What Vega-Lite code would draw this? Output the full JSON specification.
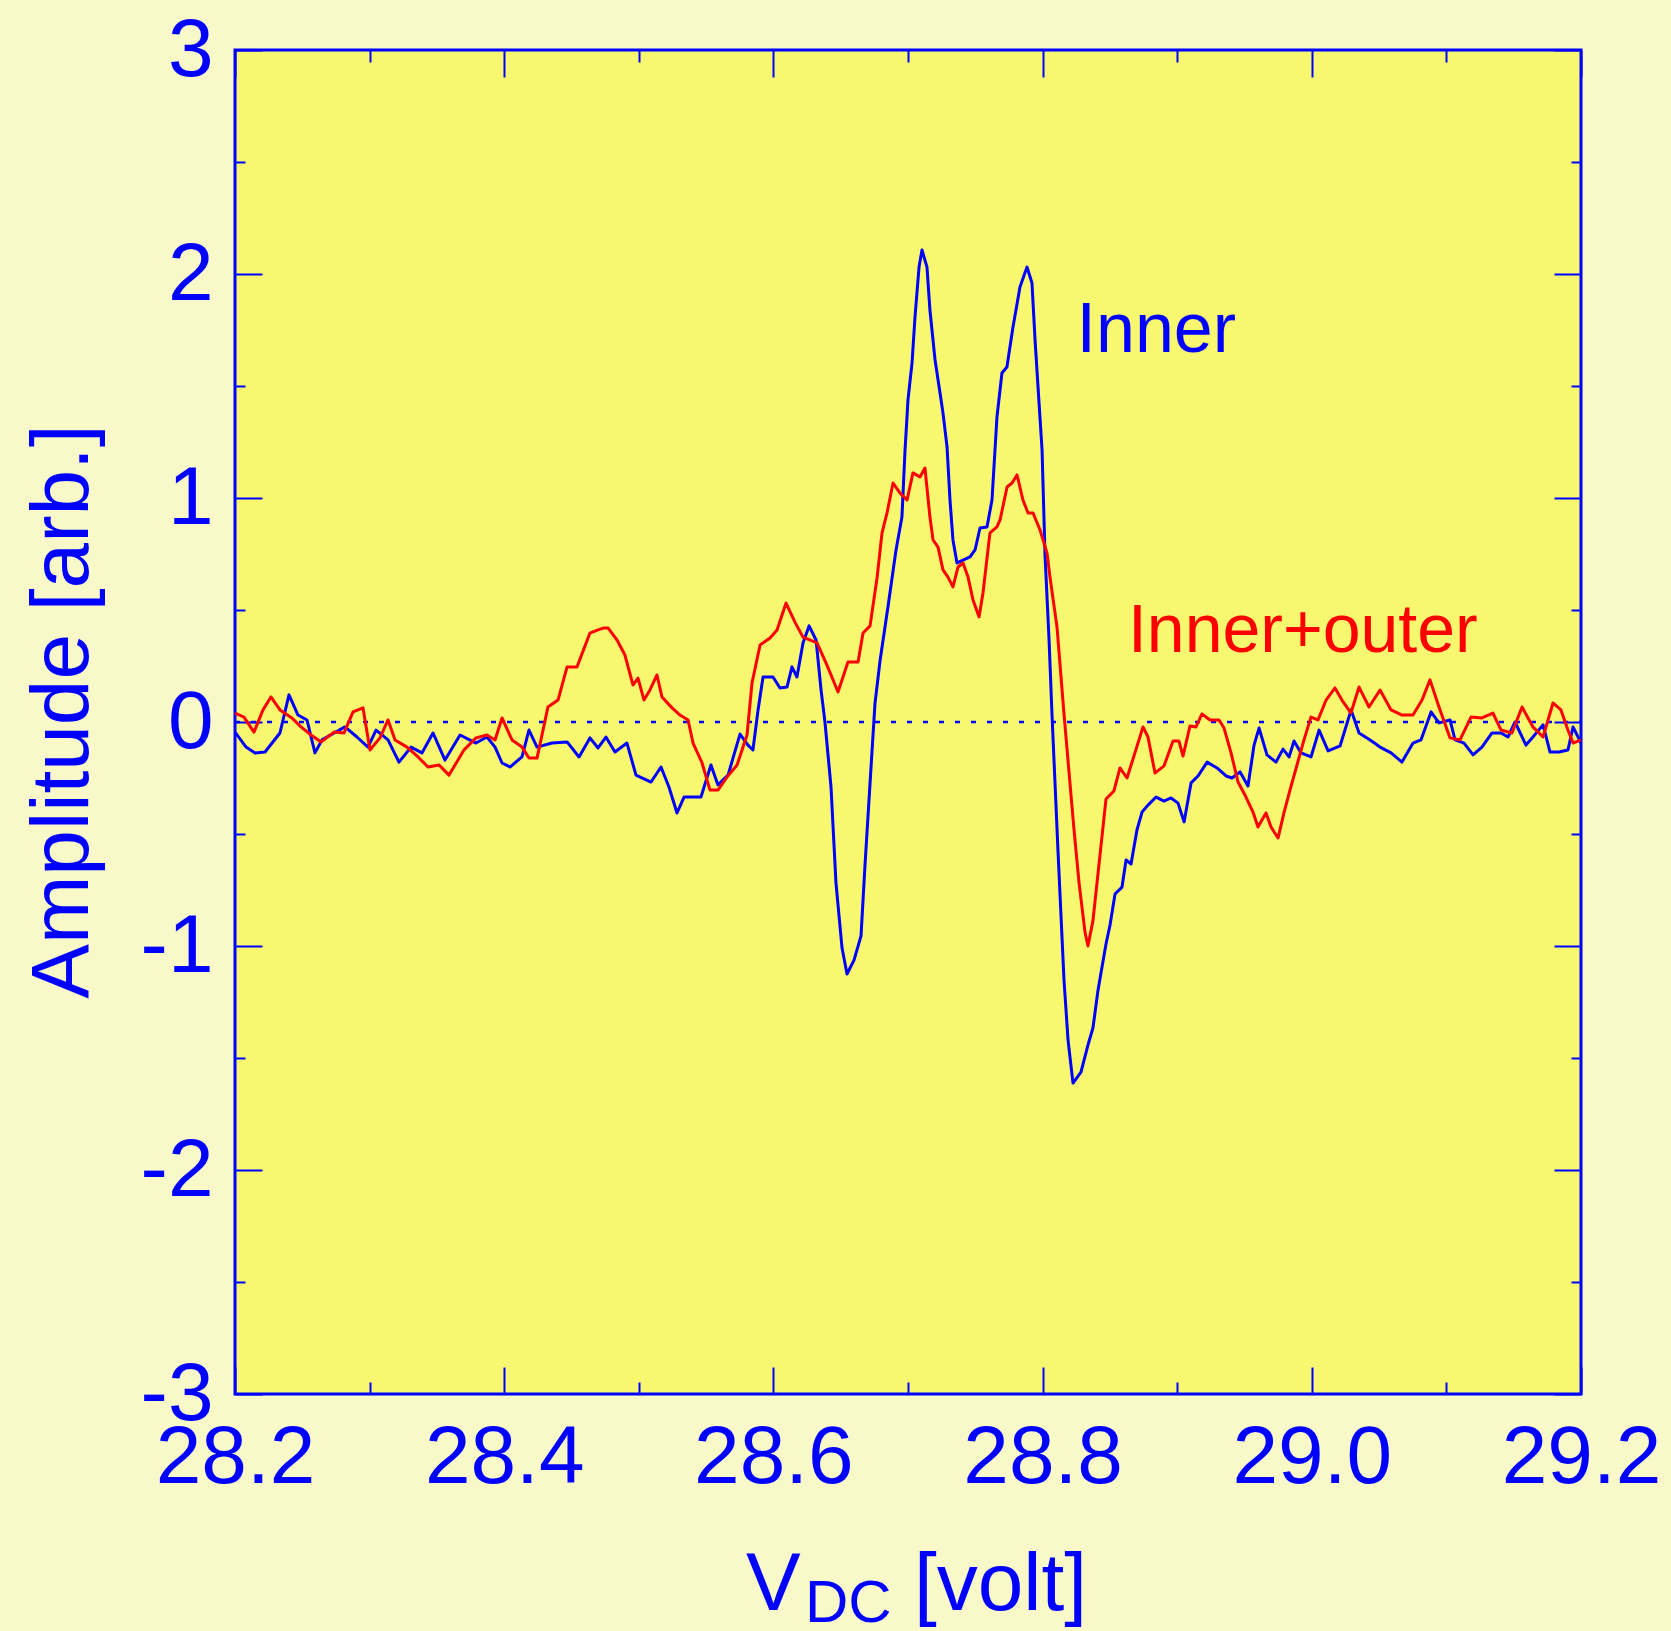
{
"$schema": "https://vega.github.io/schema/vega-lite/v6.json",
"width": 1346, "height": 1344,
"autosize": {"type": "none"},
"padding": {"left": 235, "top": 50, "right": 90, "bottom": 237},
"background": "#F8F8C8",
"config": {"view": {"fill": "#F8F870", "stroke": "#0000FF", "strokeWidth": 3}, "font": "Liberation Sans"},
"datasets": {"curves": [
{"v":28.2,"a":-0.045,"s":"Inner"},{"v":28.2082,"a":-0.112,"s":"Inner"},{"v":28.2149,"a":-0.138,"s":"Inner"},{"v":28.2223,"a":-0.134,"s":"Inner"},{"v":28.2334,"a":-0.049,"s":"Inner"},{"v":28.2401,"a":0.121,"s":"Inner"},{"v":28.2468,"a":0.031,"s":"Inner"},{"v":28.2535,"a":0.009,"s":"Inner"},{"v":28.2594,"a":-0.138,"s":"Inner"},{"v":28.2646,"a":-0.08,"s":"Inner"},{"v":28.2736,"a":-0.049,"s":"Inner"},{"v":28.2817,"a":-0.022,"s":"Inner"},{"v":28.2906,"a":-0.067,"s":"Inner"},{"v":28.2988,"a":-0.112,"s":"Inner"},{"v":28.3048,"a":-0.036,"s":"Inner"},{"v":28.3137,"a":-0.08,"s":"Inner"},{"v":28.3218,"a":-0.179,"s":"Inner"},{"v":28.3308,"a":-0.112,"s":"Inner"},{"v":28.3389,"a":-0.138,"s":"Inner"},{"v":28.3471,"a":-0.049,"s":"Inner"},{"v":28.356,"a":-0.17,"s":"Inner"},{"v":28.3672,"a":-0.058,"s":"Inner"},{"v":28.379,"a":-0.094,"s":"Inner"},{"v":28.3872,"a":-0.067,"s":"Inner"},{"v":28.3932,"a":-0.112,"s":"Inner"},{"v":28.3984,"a":-0.183,"s":"Inner"},{"v":28.4043,"a":-0.201,"s":"Inner"},{"v":28.4132,"a":-0.156,"s":"Inner"},{"v":28.4184,"a":-0.036,"s":"Inner"},{"v":28.4244,"a":-0.112,"s":"Inner"},{"v":28.4355,"a":-0.094,"s":"Inner"},{"v":28.4467,"a":-0.089,"s":"Inner"},{"v":28.4556,"a":-0.156,"s":"Inner"},{"v":28.4637,"a":-0.071,"s":"Inner"},{"v":28.4697,"a":-0.116,"s":"Inner"},{"v":28.4756,"a":-0.067,"s":"Inner"},{"v":28.4823,"a":-0.134,"s":"Inner"},{"v":28.4912,"a":-0.094,"s":"Inner"},{"v":28.4979,"a":-0.237,"s":"Inner"},{"v":28.5091,"a":-0.268,"s":"Inner"},{"v":28.5165,"a":-0.201,"s":"Inner"},{"v":28.5224,"a":-0.29,"s":"Inner"},{"v":28.5284,"a":-0.406,"s":"Inner"},{"v":28.5336,"a":-0.335,"s":"Inner"},{"v":28.5462,"a":-0.335,"s":"Inner"},{"v":28.5536,"a":-0.192,"s":"Inner"},{"v":28.5588,"a":-0.281,"s":"Inner"},{"v":28.5663,"a":-0.237,"s":"Inner"},{"v":28.5752,"a":-0.054,"s":"Inner"},{"v":28.5811,"a":-0.103,"s":"Inner"},{"v":28.5848,"a":-0.125,"s":"Inner"},{"v":28.5886,"a":0.054,"s":"Inner"},{"v":28.5923,"a":0.201,"s":"Inner"},{"v":28.5997,"a":0.201,"s":"Inner"},{"v":28.6049,"a":0.152,"s":"Inner"},{"v":28.6101,"a":0.156,"s":"Inner"},{"v":28.6138,"a":0.246,"s":"Inner"},{"v":28.6175,"a":0.201,"s":"Inner"},{"v":28.622,"a":0.353,"s":"Inner"},{"v":28.6265,"a":0.429,"s":"Inner"},{"v":28.6317,"a":0.366,"s":"Inner"},{"v":28.6354,"a":0.143,"s":"Inner"},{"v":28.6383,"a":0,"s":"Inner"},{"v":28.6428,"a":-0.29,"s":"Inner"},{"v":28.6465,"a":-0.719,"s":"Inner"},{"v":28.651,"a":-1.009,"s":"Inner"},{"v":28.6547,"a":-1.125,"s":"Inner"},{"v":28.6599,"a":-1.063,"s":"Inner"},{"v":28.6651,"a":-0.955,"s":"Inner"},{"v":28.6681,"a":-0.634,"s":"Inner"},{"v":28.6725,"a":-0.205,"s":"Inner"},{"v":28.6755,"a":0.085,"s":"Inner"},{"v":28.6792,"a":0.272,"s":"Inner"},{"v":28.6851,"a":0.513,"s":"Inner"},{"v":28.6911,"a":0.768,"s":"Inner"},{"v":28.6955,"a":0.915,"s":"Inner"},{"v":28.6978,"a":1.214,"s":"Inner"},{"v":28.7,"a":1.438,"s":"Inner"},{"v":28.703,"a":1.603,"s":"Inner"},{"v":28.7052,"a":1.808,"s":"Inner"},{"v":28.7082,"a":2.031,"s":"Inner"},{"v":28.7104,"a":2.107,"s":"Inner"},{"v":28.7141,"a":2.031,"s":"Inner"},{"v":28.7163,"a":1.839,"s":"Inner"},{"v":28.7201,"a":1.616,"s":"Inner"},{"v":28.7238,"a":1.469,"s":"Inner"},{"v":28.726,"a":1.379,"s":"Inner"},{"v":28.729,"a":1.228,"s":"Inner"},{"v":28.7312,"a":0.991,"s":"Inner"},{"v":28.7334,"a":0.813,"s":"Inner"},{"v":28.7364,"a":0.71,"s":"Inner"},{"v":28.7409,"a":0.723,"s":"Inner"},{"v":28.7461,"a":0.737,"s":"Inner"},{"v":28.7498,"a":0.768,"s":"Inner"},{"v":28.7535,"a":0.866,"s":"Inner"},{"v":28.7587,"a":0.871,"s":"Inner"},{"v":28.7624,"a":0.991,"s":"Inner"},{"v":28.7661,"a":1.362,"s":"Inner"},{"v":28.7698,"a":1.558,"s":"Inner"},{"v":28.7735,"a":1.585,"s":"Inner"},{"v":28.778,"a":1.763,"s":"Inner"},{"v":28.7832,"a":1.942,"s":"Inner"},{"v":28.7884,"a":2.031,"s":"Inner"},{"v":28.7921,"a":1.96,"s":"Inner"},{"v":28.7944,"a":1.705,"s":"Inner"},{"v":28.7966,"a":1.496,"s":"Inner"},{"v":28.7996,"a":1.214,"s":"Inner"},{"v":28.8018,"a":0.746,"s":"Inner"},{"v":28.8048,"a":0.366,"s":"Inner"},{"v":28.807,"a":0.031,"s":"Inner"},{"v":28.8114,"a":-0.571,"s":"Inner"},{"v":28.8159,"a":-1.152,"s":"Inner"},{"v":28.8189,"a":-1.42,"s":"Inner"},{"v":28.8226,"a":-1.612,"s":"Inner"},{"v":28.8285,"a":-1.563,"s":"Inner"},{"v":28.8337,"a":-1.442,"s":"Inner"},{"v":28.8374,"a":-1.366,"s":"Inner"},{"v":28.8412,"a":-1.196,"s":"Inner"},{"v":28.8471,"a":-0.991,"s":"Inner"},{"v":28.8501,"a":-0.906,"s":"Inner"},{"v":28.8538,"a":-0.768,"s":"Inner"},{"v":28.859,"a":-0.737,"s":"Inner"},{"v":28.862,"a":-0.616,"s":"Inner"},{"v":28.8657,"a":-0.634,"s":"Inner"},{"v":28.8701,"a":-0.482,"s":"Inner"},{"v":28.8739,"a":-0.402,"s":"Inner"},{"v":28.8783,"a":-0.371,"s":"Inner"},{"v":28.8843,"a":-0.335,"s":"Inner"},{"v":28.8902,"a":-0.353,"s":"Inner"},{"v":28.8954,"a":-0.339,"s":"Inner"},{"v":28.9006,"a":-0.362,"s":"Inner"},{"v":28.9051,"a":-0.446,"s":"Inner"},{"v":28.9103,"a":-0.272,"s":"Inner"},{"v":28.9155,"a":-0.241,"s":"Inner"},{"v":28.9222,"a":-0.179,"s":"Inner"},{"v":28.9296,"a":-0.205,"s":"Inner"},{"v":28.9363,"a":-0.241,"s":"Inner"},{"v":28.9407,"a":-0.25,"s":"Inner"},{"v":28.9467,"a":-0.223,"s":"Inner"},{"v":28.9526,"a":-0.286,"s":"Inner"},{"v":28.9571,"a":-0.103,"s":"Inner"},{"v":28.9608,"a":-0.027,"s":"Inner"},{"v":28.9667,"a":-0.147,"s":"Inner"},{"v":28.9734,"a":-0.179,"s":"Inner"},{"v":28.9786,"a":-0.121,"s":"Inner"},{"v":28.9831,"a":-0.156,"s":"Inner"},{"v":28.9868,"a":-0.085,"s":"Inner"},{"v":28.992,"a":-0.138,"s":"Inner"},{"v":28.9994,"a":-0.156,"s":"Inner"},{"v":29.0054,"a":-0.036,"s":"Inner"},{"v":29.0121,"a":-0.129,"s":"Inner"},{"v":29.021,"a":-0.107,"s":"Inner"},{"v":29.0292,"a":0.054,"s":"Inner"},{"v":29.0351,"a":-0.049,"s":"Inner"},{"v":29.0433,"a":-0.08,"s":"Inner"},{"v":29.0507,"a":-0.112,"s":"Inner"},{"v":29.0589,"a":-0.138,"s":"Inner"},{"v":29.067,"a":-0.179,"s":"Inner"},{"v":29.0752,"a":-0.094,"s":"Inner"},{"v":29.0811,"a":-0.08,"s":"Inner"},{"v":29.0886,"a":0.045,"s":"Inner"},{"v":29.0945,"a":-0.004,"s":"Inner"},{"v":29.1027,"a":0.009,"s":"Inner"},{"v":29.1064,"a":-0.08,"s":"Inner"},{"v":29.1131,"a":-0.094,"s":"Inner"},{"v":29.1198,"a":-0.147,"s":"Inner"},{"v":29.1264,"a":-0.112,"s":"Inner"},{"v":29.1339,"a":-0.049,"s":"Inner"},{"v":29.1406,"a":-0.049,"s":"Inner"},{"v":29.1458,"a":-0.067,"s":"Inner"},{"v":29.151,"a":0,"s":"Inner"},{"v":29.1591,"a":-0.103,"s":"Inner"},{"v":29.1643,"a":-0.067,"s":"Inner"},{"v":29.1718,"a":-0.013,"s":"Inner"},{"v":29.177,"a":-0.134,"s":"Inner"},{"v":29.1837,"a":-0.134,"s":"Inner"},{"v":29.1903,"a":-0.125,"s":"Inner"},{"v":29.1941,"a":-0.022,"s":"Inner"},{"v":29.2,"a":-0.094,"s":"Inner"},
{"v":28.2,"a":0.04,"s":"Inner+outer"},{"v":28.2067,"a":0.022,"s":"Inner+outer"},{"v":28.2141,"a":-0.045,"s":"Inner+outer"},{"v":28.2208,"a":0.054,"s":"Inner+outer"},{"v":28.2267,"a":0.112,"s":"Inner+outer"},{"v":28.2334,"a":0.054,"s":"Inner+outer"},{"v":28.2423,"a":0.018,"s":"Inner+outer"},{"v":28.249,"a":-0.022,"s":"Inner+outer"},{"v":28.2565,"a":-0.058,"s":"Inner+outer"},{"v":28.2639,"a":-0.089,"s":"Inner+outer"},{"v":28.2736,"a":-0.045,"s":"Inner+outer"},{"v":28.281,"a":-0.049,"s":"Inner+outer"},{"v":28.2877,"a":0.045,"s":"Inner+outer"},{"v":28.2951,"a":0.063,"s":"Inner+outer"},{"v":28.3003,"a":-0.125,"s":"Inner+outer"},{"v":28.3077,"a":-0.071,"s":"Inner+outer"},{"v":28.3137,"a":0.009,"s":"Inner+outer"},{"v":28.3189,"a":-0.08,"s":"Inner+outer"},{"v":28.3278,"a":-0.112,"s":"Inner+outer"},{"v":28.336,"a":-0.156,"s":"Inner+outer"},{"v":28.3434,"a":-0.201,"s":"Inner+outer"},{"v":28.3516,"a":-0.192,"s":"Inner+outer"},{"v":28.359,"a":-0.237,"s":"Inner+outer"},{"v":28.3701,"a":-0.125,"s":"Inner+outer"},{"v":28.379,"a":-0.071,"s":"Inner+outer"},{"v":28.3872,"a":-0.058,"s":"Inner+outer"},{"v":28.3932,"a":-0.08,"s":"Inner+outer"},{"v":28.3984,"a":0.018,"s":"Inner+outer"},{"v":28.4058,"a":-0.08,"s":"Inner+outer"},{"v":28.4132,"a":-0.112,"s":"Inner+outer"},{"v":28.4184,"a":-0.161,"s":"Inner+outer"},{"v":28.4244,"a":-0.161,"s":"Inner+outer"},{"v":28.4325,"a":0.067,"s":"Inner+outer"},{"v":28.44,"a":0.098,"s":"Inner+outer"},{"v":28.4467,"a":0.246,"s":"Inner+outer"},{"v":28.4541,"a":0.246,"s":"Inner+outer"},{"v":28.4637,"a":0.397,"s":"Inner+outer"},{"v":28.4697,"a":0.411,"s":"Inner+outer"},{"v":28.4741,"a":0.42,"s":"Inner+outer"},{"v":28.4771,"a":0.42,"s":"Inner+outer"},{"v":28.4838,"a":0.366,"s":"Inner+outer"},{"v":28.4897,"a":0.299,"s":"Inner+outer"},{"v":28.4957,"a":0.165,"s":"Inner+outer"},{"v":28.4994,"a":0.196,"s":"Inner+outer"},{"v":28.5039,"a":0.098,"s":"Inner+outer"},{"v":28.5083,"a":0.143,"s":"Inner+outer"},{"v":28.5135,"a":0.21,"s":"Inner+outer"},{"v":28.5172,"a":0.112,"s":"Inner+outer"},{"v":28.5247,"a":0.063,"s":"Inner+outer"},{"v":28.5306,"a":0.031,"s":"Inner+outer"},{"v":28.5366,"a":0.009,"s":"Inner+outer"},{"v":28.5403,"a":-0.094,"s":"Inner+outer"},{"v":28.547,"a":-0.183,"s":"Inner+outer"},{"v":28.5529,"a":-0.304,"s":"Inner+outer"},{"v":28.5588,"a":-0.304,"s":"Inner+outer"},{"v":28.5655,"a":-0.246,"s":"Inner+outer"},{"v":28.573,"a":-0.192,"s":"Inner+outer"},{"v":28.5804,"a":-0.058,"s":"Inner+outer"},{"v":28.5841,"a":0.174,"s":"Inner+outer"},{"v":28.5901,"a":0.344,"s":"Inner+outer"},{"v":28.5975,"a":0.375,"s":"Inner+outer"},{"v":28.6027,"a":0.411,"s":"Inner+outer"},{"v":28.6094,"a":0.531,"s":"Inner+outer"},{"v":28.616,"a":0.446,"s":"Inner+outer"},{"v":28.622,"a":0.379,"s":"Inner+outer"},{"v":28.6324,"a":0.353,"s":"Inner+outer"},{"v":28.6398,"a":0.254,"s":"Inner+outer"},{"v":28.648,"a":0.134,"s":"Inner+outer"},{"v":28.6554,"a":0.268,"s":"Inner+outer"},{"v":28.6629,"a":0.268,"s":"Inner+outer"},{"v":28.6666,"a":0.397,"s":"Inner+outer"},{"v":28.6718,"a":0.429,"s":"Inner+outer"},{"v":28.677,"a":0.643,"s":"Inner+outer"},{"v":28.6807,"a":0.844,"s":"Inner+outer"},{"v":28.6844,"a":0.933,"s":"Inner+outer"},{"v":28.6889,"a":1.067,"s":"Inner+outer"},{"v":28.6941,"a":1.022,"s":"Inner+outer"},{"v":28.6993,"a":0.991,"s":"Inner+outer"},{"v":28.7037,"a":1.112,"s":"Inner+outer"},{"v":28.7089,"a":1.094,"s":"Inner+outer"},{"v":28.7126,"a":1.134,"s":"Inner+outer"},{"v":28.7163,"a":0.915,"s":"Inner+outer"},{"v":28.7186,"a":0.813,"s":"Inner+outer"},{"v":28.7223,"a":0.781,"s":"Inner+outer"},{"v":28.726,"a":0.679,"s":"Inner+outer"},{"v":28.7297,"a":0.647,"s":"Inner+outer"},{"v":28.7334,"a":0.603,"s":"Inner+outer"},{"v":28.7372,"a":0.692,"s":"Inner+outer"},{"v":28.7409,"a":0.71,"s":"Inner+outer"},{"v":28.7446,"a":0.647,"s":"Inner+outer"},{"v":28.7483,"a":0.545,"s":"Inner+outer"},{"v":28.7528,"a":0.469,"s":"Inner+outer"},{"v":28.7557,"a":0.576,"s":"Inner+outer"},{"v":28.7609,"a":0.844,"s":"Inner+outer"},{"v":28.7661,"a":0.871,"s":"Inner+outer"},{"v":28.7684,"a":0.902,"s":"Inner+outer"},{"v":28.7736,"a":1.049,"s":"Inner+outer"},{"v":28.7773,"a":1.067,"s":"Inner+outer"},{"v":28.781,"a":1.103,"s":"Inner+outer"},{"v":28.7854,"a":0.991,"s":"Inner+outer"},{"v":28.7892,"a":0.933,"s":"Inner+outer"},{"v":28.7929,"a":0.933,"s":"Inner+outer"},{"v":28.7981,"a":0.857,"s":"Inner+outer"},{"v":28.8033,"a":0.754,"s":"Inner+outer"},{"v":28.8055,"a":0.647,"s":"Inner+outer"},{"v":28.8107,"a":0.424,"s":"Inner+outer"},{"v":28.8159,"a":0.036,"s":"Inner+outer"},{"v":28.8204,"a":-0.277,"s":"Inner+outer"},{"v":28.8233,"a":-0.478,"s":"Inner+outer"},{"v":28.8271,"a":-0.719,"s":"Inner+outer"},{"v":28.8315,"a":-0.938,"s":"Inner+outer"},{"v":28.8337,"a":-1.0,"s":"Inner+outer"},{"v":28.8374,"a":-0.888,"s":"Inner+outer"},{"v":28.8404,"a":-0.719,"s":"Inner+outer"},{"v":28.8441,"a":-0.513,"s":"Inner+outer"},{"v":28.8471,"a":-0.344,"s":"Inner+outer"},{"v":28.853,"a":-0.308,"s":"Inner+outer"},{"v":28.8575,"a":-0.205,"s":"Inner+outer"},{"v":28.8627,"a":-0.25,"s":"Inner+outer"},{"v":28.8686,"a":-0.138,"s":"Inner+outer"},{"v":28.8746,"a":-0.022,"s":"Inner+outer"},{"v":28.8783,"a":-0.067,"s":"Inner+outer"},{"v":28.8835,"a":-0.228,"s":"Inner+outer"},{"v":28.8902,"a":-0.196,"s":"Inner+outer"},{"v":28.8969,"a":-0.085,"s":"Inner+outer"},{"v":28.9013,"a":-0.085,"s":"Inner+outer"},{"v":28.9043,"a":-0.152,"s":"Inner+outer"},{"v":28.9095,"a":-0.018,"s":"Inner+outer"},{"v":28.914,"a":-0.022,"s":"Inner+outer"},{"v":28.9184,"a":0.036,"s":"Inner+outer"},{"v":28.9244,"a":0.009,"s":"Inner+outer"},{"v":28.9311,"a":0.009,"s":"Inner+outer"},{"v":28.9348,"a":-0.027,"s":"Inner+outer"},{"v":28.94,"a":-0.138,"s":"Inner+outer"},{"v":28.9452,"a":-0.268,"s":"Inner+outer"},{"v":28.9511,"a":-0.335,"s":"Inner+outer"},{"v":28.9563,"a":-0.402,"s":"Inner+outer"},{"v":28.96,"a":-0.469,"s":"Inner+outer"},{"v":28.966,"a":-0.406,"s":"Inner+outer"},{"v":28.9697,"a":-0.469,"s":"Inner+outer"},{"v":28.9749,"a":-0.518,"s":"Inner+outer"},{"v":28.9793,"a":-0.406,"s":"Inner+outer"},{"v":28.9838,"a":-0.304,"s":"Inner+outer"},{"v":28.989,"a":-0.192,"s":"Inner+outer"},{"v":28.9942,"a":-0.08,"s":"Inner+outer"},{"v":28.9994,"a":0.022,"s":"Inner+outer"},{"v":29.0046,"a":0.009,"s":"Inner+outer"},{"v":29.0106,"a":0.098,"s":"Inner+outer"},{"v":29.0172,"a":0.152,"s":"Inner+outer"},{"v":29.0224,"a":0.098,"s":"Inner+outer"},{"v":29.0291,"a":0.04,"s":"Inner+outer"},{"v":29.0351,"a":0.156,"s":"Inner+outer"},{"v":29.0425,"a":0.067,"s":"Inner+outer"},{"v":29.0507,"a":0.143,"s":"Inner+outer"},{"v":29.0589,"a":0.054,"s":"Inner+outer"},{"v":29.067,"a":0.031,"s":"Inner+outer"},{"v":29.0752,"a":0.031,"s":"Inner+outer"},{"v":29.0819,"a":0.098,"s":"Inner+outer"},{"v":29.0878,"a":0.188,"s":"Inner+outer"},{"v":29.0945,"a":0.067,"s":"Inner+outer"},{"v":29.1027,"a":-0.071,"s":"Inner+outer"},{"v":29.1101,"a":-0.08,"s":"Inner+outer"},{"v":29.1183,"a":0.022,"s":"Inner+outer"},{"v":29.1264,"a":0.018,"s":"Inner+outer"},{"v":29.1346,"a":0.04,"s":"Inner+outer"},{"v":29.1406,"a":-0.036,"s":"Inner+outer"},{"v":29.1487,"a":-0.049,"s":"Inner+outer"},{"v":29.1562,"a":0.067,"s":"Inner+outer"},{"v":29.1643,"a":-0.022,"s":"Inner+outer"},{"v":29.1718,"a":-0.067,"s":"Inner+outer"},{"v":29.1792,"a":0.085,"s":"Inner+outer"},{"v":29.1851,"a":0.054,"s":"Inner+outer"},{"v":29.1903,"a":-0.036,"s":"Inner+outer"},{"v":29.1941,"a":-0.094,"s":"Inner+outer"},{"v":29.2,"a":-0.08,"s":"Inner+outer"}
]},
"layer": [
{
"data": {"values": [{}]},
"mark": {"type": "rule", "color": "#0000FF", "strokeWidth": 2.5, "strokeDash": [5, 11]},
"encoding": {
"x": {"datum": 28.2, "type": "quantitative", "scale": {"domain": [28.2, 29.2], "nice": false, "zero": false},
"axis": {"orient": "top", "values": [28.2,28.3,28.4,28.5,28.6,28.7,28.8,28.9,29.0,29.1,29.2], "labels": false, "domain": false, "grid": false, "title": null, "ticks": true, "tickSize": 0, "tickColor": "#0000FF", "tickWidth": 2,
"encoding": {"ticks": {"y2": {"condition": {"test": "round(datum.value*10) % 2 == 0", "value": 27}, "value": 12}}}}},
"x2": {"datum": 29.2},
"y": {"datum": 0, "type": "quantitative", "scale": {"domain": [-3, 3], "nice": false, "zero": false},
"axis": {"orient": "right", "values": [-3,-2.5,-2,-1.5,-1,-0.5,0,0.5,1,1.5,2,2.5,3], "labels": false, "domain": false, "grid": false, "title": null, "ticks": true, "tickSize": 0, "tickColor": "#0000FF", "tickWidth": 2,
"encoding": {"ticks": {"x2": {"condition": {"test": "datum.value % 1 == 0", "value": -27}, "value": -10}}}}}
}
},
{
"data": {"name": "curves"},
"mark": {"type": "line", "strokeWidth": 3, "clip": true, "strokeJoin": "round"},
"encoding": {
"x": {"field": "v", "type": "quantitative", "scale": {"domain": [28.2, 29.2], "nice": false, "zero": false},
"axis": {"orient": "bottom", "values": [28.2,28.3,28.4,28.5,28.6,28.7,28.8,28.9,29.0,29.1,29.2], "labelExpr": "round(datum.value*10) % 2 == 0 ? format(datum.value, '.1f') : ''", "labelFont": "Liberation Sans", "labelFontSize": 82, "labelColor": "#0000FF", "labelPadding": 23, "labelFlush": false, "labelOverlap": false, "labelBound": false, "domain": false, "grid": false, "title": null, "ticks": true, "tickSize": 0, "tickColor": "#0000FF", "tickWidth": 2,
"encoding": {"ticks": {"y2": {"condition": {"test": "round(datum.value*10) % 2 == 0", "value": -27}, "value": -12}}}}},
"y": {"field": "a", "type": "quantitative", "scale": {"domain": [-3, 3], "nice": false, "zero": false},
"axis": {"orient": "left", "values": [-3,-2.5,-2,-1.5,-1,-0.5,0,0.5,1,1.5,2,2.5,3], "labelExpr": "datum.value % 1 == 0 ? '' + datum.value : ''", "labelFont": "Liberation Sans", "labelFontSize": 82, "labelColor": "#0000FF", "labelPadding": 22, "labelFlush": false, "labelOverlap": false, "labelBound": false, "domain": false, "grid": false, "ticks": true, "tickSize": 0, "tickColor": "#0000FF", "tickWidth": 2,
"title": "Amplitude [arb.]", "titleFont": "Liberation Sans", "titleFontSize": 82, "titleFontWeight": "normal", "titleColor": "#0000FF", "titleX": -148, "titleY": 661, "titleAngle": -90, "titleBaseline": "alphabetic", "titleAlign": "center",
"encoding": {"ticks": {"x2": {"condition": {"test": "datum.value % 1 == 0", "value": 27}, "value": 10}}}}},
"color": {"field": "s", "type": "nominal", "scale": {"domain": ["Inner", "Inner+outer"], "range": ["#0000FF", "#FF0000"]}, "legend": null}
}
},
{
"data": {"values": [{}]},
"mark": {"type": "text", "text": "Inner", "font": "Liberation Sans", "fontSize": 70, "color": "#0000FF", "align": "left", "baseline": "alphabetic"},
"encoding": {
"x": {"datum": 28.8252, "type": "quantitative", "scale": {"domain": [28.2, 29.2], "nice": false, "zero": false}, "axis": null},
"y": {"datum": 1.652, "type": "quantitative", "scale": {"domain": [-3, 3], "nice": false, "zero": false}, "axis": null}
}
},
{
"data": {"values": [{}]},
"mark": {"type": "text", "text": "Inner+outer", "font": "Liberation Sans", "fontSize": 68, "color": "#FF0000", "align": "left", "baseline": "alphabetic"},
"encoding": {
"x": {"datum": 28.8634, "type": "quantitative", "scale": {"domain": [28.2, 29.2], "nice": false, "zero": false}, "axis": null},
"y": {"datum": 0.3125, "type": "quantitative", "scale": {"domain": [-3, 3], "nice": false, "zero": false}, "axis": null}
}
},
{
"data": {"values": [{}]},
"mark": {"type": "text", "text": "V", "font": "Liberation Sans", "fontSize": 82, "color": "#0000FF", "align": "left", "baseline": "alphabetic"},
"encoding": {
"x": {"datum": 28.5796, "type": "quantitative", "scale": {"domain": [28.2, 29.2], "nice": false, "zero": false}, "axis": null},
"y": {"datum": -3.964, "type": "quantitative", "scale": {"domain": [-3, 3], "nice": false, "zero": false}, "axis": null}
}
},
{
"data": {"values": [{}]},
"mark": {"type": "text", "text": "DC", "font": "Liberation Sans", "fontSize": 60, "color": "#0000FF", "align": "left", "baseline": "alphabetic"},
"encoding": {
"x": {"datum": 28.6235, "type": "quantitative", "scale": {"domain": [28.2, 29.2], "nice": false, "zero": false}, "axis": null},
"y": {"datum": -4.02, "type": "quantitative", "scale": {"domain": [-3, 3], "nice": false, "zero": false}, "axis": null}
}
},
{
"data": {"values": [{}]},
"mark": {"type": "text", "text": "[volt]", "font": "Liberation Sans", "fontSize": 82, "color": "#0000FF", "align": "left", "baseline": "alphabetic"},
"encoding": {
"x": {"datum": 28.7044, "type": "quantitative", "scale": {"domain": [28.2, 29.2], "nice": false, "zero": false}, "axis": null},
"y": {"datum": -3.964, "type": "quantitative", "scale": {"domain": [-3, 3], "nice": false, "zero": false}, "axis": null}
}
}
],
"resolve": {"axis": {"x": "independent", "y": "independent"}}
}
